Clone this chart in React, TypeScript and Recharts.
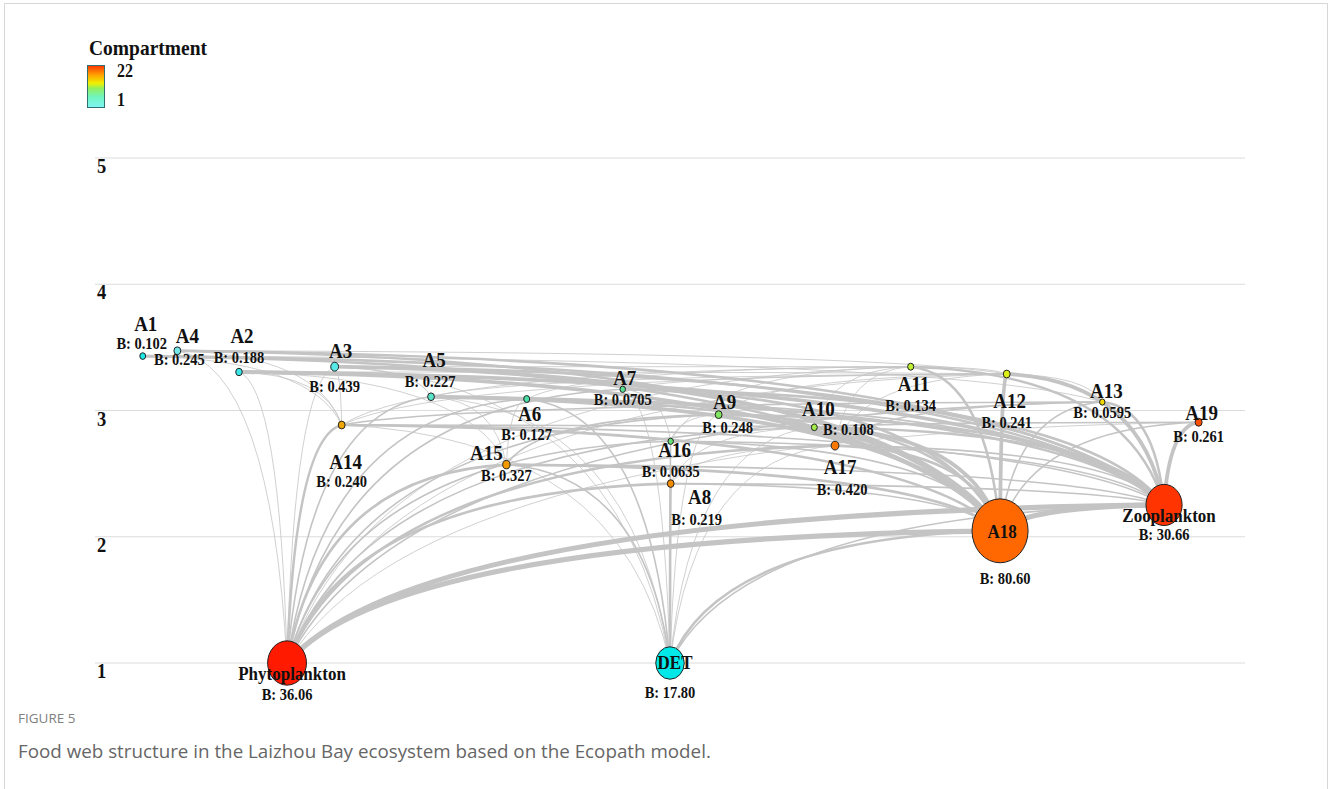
import React from 'react';
import { ScatterChart, Scatter, XAxis, YAxis, CartesianGrid } from 'recharts';

// compartments of the food web
const nodeNames = ['A1', 'A4', 'A2', 'A3', 'A14', 'A5', 'A6', 'A15', 'A7', 'A16', 'A8', 'A9', 'A10', 'A17', 'A11', 'A12', 'A13', 'A19', 'A18', 'Zooplankton', 'Phytoplankton', 'DET'];
// horizontal slot of each compartment in the layout (0-100)
const layoutX = [4.15, 7.16, 12.52, 20.84, 21.45, 29.22, 37.54, 35.77, 45.89, 50.06, 50.06, 54.23, 62.55, 64.35, 70.93, 79.28, 87.59, 95.97, 78.7, 92.96, 16.7, 50.0];
const trophicLevel = [3.431, 3.473, 3.305, 3.347, 2.885, 3.109, 3.091, 2.571, 3.168, 2.756, 2.421, 2.967, 2.867, 2.722, 3.347, 3.289, 3.067, 2.907, 2.047, 2.252, 1.0, 1.0];
const biomass = [0.102, 0.245, 0.188, 0.439, 0.24, 0.227, 0.127, 0.327, 0.0705, 0.0635, 0.219, 0.248, 0.108, 0.42, 0.134, 0.241, 0.0595, 0.261, 80.6, 30.66, 36.06, 17.8];
const compartment = [2, 5, 3, 4, 15, 6, 7, 16, 8, 9, 17, 10, 11, 18, 12, 13, 14, 20, 19, 21, 22, 1];
const levelTicks = [1, 2, 3, 4, 5];

// [prey, predator, flow class 1-5]
const foodLinks: [string, string, number][] = [
  ['Phytoplankton', 'Zooplankton', 5], ['Phytoplankton', 'A18', 5], ['Phytoplankton', 'A14', 3],
  ['Phytoplankton', 'A15', 3], ['Phytoplankton', 'A16', 2], ['Phytoplankton', 'A8', 3],
  ['Phytoplankton', 'A17', 3], ['Phytoplankton', 'A9', 2], ['Phytoplankton', 'A10', 2],
  ['Phytoplankton', 'A13', 2], ['Phytoplankton', 'A5', 2], ['Phytoplankton', 'A6', 2],
  ['Phytoplankton', 'A7', 2], ['Phytoplankton', 'A11', 1], ['Phytoplankton', 'A12', 1],
  ['Phytoplankton', 'A3', 1], ['Phytoplankton', 'A2', 1], ['Phytoplankton', 'A4', 1],
  ['Phytoplankton', 'A19', 1],
  ['DET', 'A18', 3], ['DET', 'A8', 3], ['DET', 'A16', 2], ['DET', 'A15', 2], ['DET', 'A6', 2],
  ['DET', 'A5', 1], ['DET', 'A7', 1], ['DET', 'A9', 1], ['DET', 'A17', 1], ['DET', 'A10', 1],
  ['DET', 'A14', 1], ['DET', 'A3', 1], ['DET', 'Zooplankton', 2],
  ['Zooplankton', 'A1', 3], ['Zooplankton', 'A4', 3], ['Zooplankton', 'A2', 4], ['Zooplankton', 'A3', 3],
  ['Zooplankton', 'A5', 3], ['Zooplankton', 'A6', 2], ['Zooplankton', 'A7', 3], ['Zooplankton', 'A9', 3],
  ['Zooplankton', 'A10', 3], ['Zooplankton', 'A11', 3], ['Zooplankton', 'A12', 4], ['Zooplankton', 'A13', 3],
  ['Zooplankton', 'A19', 4], ['Zooplankton', 'A14', 2], ['Zooplankton', 'A15', 2], ['Zooplankton', 'A16', 2],
  ['Zooplankton', 'A17', 2], ['Zooplankton', 'A8', 2], ['Zooplankton', 'A18', 5],
  ['A18', 'A1', 3], ['A18', 'A4', 3], ['A18', 'A2', 4], ['A18', 'A3', 4], ['A18', 'A5', 4],
  ['A18', 'A6', 3], ['A18', 'A7', 3], ['A18', 'A9', 3], ['A18', 'A10', 4], ['A18', 'A11', 3],
  ['A18', 'A12', 4], ['A18', 'A13', 2], ['A18', 'A14', 3], ['A18', 'A15', 3], ['A18', 'A17', 3],
  ['A18', 'A8', 2], ['A18', 'A16', 2], ['A18', 'A19', 2],
  ['A14', 'A1', 1], ['A14', 'A4', 1], ['A14', 'A2', 1], ['A14', 'A3', 1], ['A14', 'A10', 2],
  ['A14', 'A13', 2], ['A14', 'A11', 1], ['A14', 'A12', 1],
  ['A15', 'A5', 1], ['A15', 'A6', 1], ['A15', 'A2', 1], ['A15', 'A9', 2],
  ['A16', 'A7', 1], ['A16', 'A9', 1], ['A16', 'A11', 1],
  ['A8', 'A17', 1], ['A8', 'A10', 1],
  ['A17', 'A10', 1], ['A17', 'A11', 1], ['A17', 'A12', 1], ['A17', 'A13', 2],
  ['A10', 'A11', 1], ['A10', 'A19', 2],
  ['A9', 'A12', 1], ['A7', 'A12', 1], ['A6', 'A11', 1], ['A5', 'A12', 1], ['A5', 'A3', 1],
  ['A3', 'A11', 1], ['A2', 'A12', 1], ['A1', 'A13', 1], ['A4', 'A12', 1],
  ['A12', 'A11', 1], ['A13', 'A12', 1],
];

// label offsets from the node centre: [name dx, name dy, biomass dx, biomass dy]
const labelPlacement: Record<string, number[]> = {
  A1: [3, -25, -1, -7], A4: [10, -8, 2, 14], A2: [3, -29, 0, -9], A3: [6, -9, 0, 25],
  A14: [4, 44, 0, 62], A5: [3, -30, -1, -10], A6: [3, 22, 0, 41], A15: [-20, -5, 0, 16],
  A7: [2, -4, 0, 16], A16: [4, 16, 0, 36], A8: [29, 20, 26, 41], A9: [6, -6, 9, 18],
  A10: [4, -11, 34, 8], A17: [5, 28, 7, 49], A11: [3, 24, 0, 44], A12: [3, 34, 0, 54],
  A13: [4, -4, 0, 16], A19: [3, -2, 0, 20], A18: [2, 7, 5, 53], Zooplankton: [5, 17, 0, 35],
  Phytoplankton: [5, 17, 0, 37], DET: [5, 6, 0, 35],
};

const colorStops: [number, string][] = [
  [0, '#00e8e8'], [0.19, '#74e8e8'], [0.27, '#45e0b0'], [0.4, '#70e070'], [0.5, '#b0f040'],
  [0.6, '#f0f000'], [0.66, '#f0a800'], [0.75, '#f29000'], [0.86, '#ff6600'], [1, '#ff1a00'],
];

const SERIF = '"Liberation Serif", "Times New Roman", serif';
const linkWidth = [0, 0.8, 1.6, 2.6, 3.8, 5.2];

const hexToRgb = (h: string) => [1, 3, 5].map(i => parseInt(h.slice(i, i + 2), 16));

function compartmentColor(c: number) {
  const t = (c - 1) / 21;
  for (let i = 1; i < colorStops.length; i++) {
    const [t1, c1] = colorStops[i];
    const [t0, c0] = colorStops[i - 1];
    if (t <= t1) {
      const k = (t - t0) / (t1 - t0);
      const a = hexToRgb(c0), b = hexToRgb(c1);
      return `rgb(${a.map((v, j) => Math.round(v + (b[j] - v) * k)).join(',')})`;
    }
  }
  return colorStops[colorStops.length - 1][1];
}

const nodes = nodeNames.map((name, i) => ({
  name, x: layoutX[i], y: trophicLevel[i], b: biomass[i], c: compartment[i],
}));
const nodeIndex = (name: string) => nodeNames.indexOf(name);
const linkPoints = foodLinks.flatMap(([a, b]) => [nodes[nodeIndex(a)], nodes[nodeIndex(b)]]);

const formatB = (b: number) => (b < 1 ? b.toPrecision(3) : b.toFixed(2));
const nodeRadius = (b: number) => 2 + 2.9 * Math.sqrt(b);

// serif labels are a little taller than wide in this figure
const Tall = ({ x, y, size, children, anchor = 'middle' }: any) => (
  <text transform={`translate(${x},${y}) scale(1,1.12)`} fontSize={size} textAnchor={anchor}
    fontFamily={SERIF} fontWeight="bold" fill="#111">{children}</text>
);

// each consecutive pair of points is one link, drawn as an arc bending up from the lower end
function LinkPaths({ points }: { points: { x: number; y: number }[] }) {
  const paths = [];
  for (let i = 0; i + 1 < points.length; i += 2) {
    const a = points[i], b = points[i + 1];
    const [lo, hi] = a.y >= b.y ? [a, b] : [b, a];
    const qx = lo.x + 0.15 * (hi.x - lo.x);
    const qy = hi.y + 0.05 * (lo.y - hi.y);
    paths.push(
      <path key={i} d={`M${lo.x},${lo.y} Q${qx},${qy} ${hi.x},${hi.y}`} fill="none"
        stroke="#c4c4c4" strokeWidth={linkWidth[foodLinks[i / 2][2]]} strokeLinecap="round" />
    );
  }
  return <g>{paths}</g>;
}

const NodeShape = (props: any) => {
  const { cx, cy, payload } = props;
  const r = nodeRadius(payload.b);
  return <ellipse cx={cx} cy={cy} rx={r} ry={r * 1.14} fill={compartmentColor(payload.c)} stroke="#222" strokeWidth={1} />;
};

const NodeLabel = (props: any) => {
  const { cx, cy, payload } = props;
  const [nx, ny, bx, by] = labelPlacement[payload.name];
  const big = payload.b > 1;
  return (
    <g>
      <Tall x={cx + nx} y={cy + ny} size={big ? 17 : 19}>{payload.name}</Tall>
      <Tall x={cx + bx} y={cy + by} size={14.5}>B: {formatB(payload.b)}</Tall>
    </g>
  );
};

const LevelTick = ({ y, payload }: any) => (
  <Tall x={97} y={y + 15} size={18.5} anchor="start">{payload.value}</Tall>
);

export default function App() {
  return (
    <div style={{ position: 'absolute', left: 0, top: 0, width: 1328, height: 789, background: '#fff', overflow: 'hidden' }}>
      <svg width={1328} height={789} style={{ position: 'absolute', left: 0, top: 0 }}>
        <defs>
          <linearGradient id="compGrad" x1="0" y1="1" x2="0" y2="0">
            <stop offset="0%" stopColor="#7ff5f5" />
            <stop offset="25%" stopColor="#70f5c0" />
            <stop offset="45%" stopColor="#90f060" />
            <stop offset="58%" stopColor="#f0f000" />
            <stop offset="78%" stopColor="#ffa000" />
            <stop offset="100%" stopColor="#ff3300" />
          </linearGradient>
        </defs>
        <path d="M4.5,789 V3.5 H1327.5 V789" fill="none" stroke="#d6d6d6" strokeWidth={1} />
        <Tall x={89} y={55} size={19.5} anchor="start">Compartment</Tall>
        <rect x={87.5} y={65.5} width={17} height={42} fill="url(#compGrad)" stroke="#2f6f6f" strokeWidth={1} />
        <Tall x={117} y={77} size={16} anchor="start">22</Tall>
        <Tall x={117} y={106} size={16} anchor="start">1</Tall>
        <text x={18} y={723} fontFamily='"Open Sans", sans-serif' fontSize={13.5} fill="#808080">FIGURE 5</text>
        <text x={18} y={758} fontFamily='"Open Sans", sans-serif' fontSize={18.8} fill="#666">
          Food web structure in the Laizhou Bay ecosystem based on the Ecopath model.
        </text>
      </svg>
      <div style={{ position: 'absolute', left: 0, top: 0 }}>
        <ScatterChart width={1328} height={789} margin={{ top: 158, right: 83, bottom: 126, left: 95 }}>
          <CartesianGrid horizontal vertical={false} stroke="#dcdcdc" />
          <XAxis type="number" dataKey="x" domain={[0, 100]} hide height={0} />
          <YAxis type="number" dataKey="y" domain={[1, 5]} ticks={levelTicks} width={1} mirror
            axisLine={false} tickLine={false} tickSize={0} tickMargin={2} tick={<LevelTick />} />
          <Scatter data={linkPoints} isAnimationActive={false} shape={() => <g />}
            line={(p: any) => <LinkPaths points={p.points} />} />
          <Scatter data={nodes} isAnimationActive={false} shape={NodeShape} />
          <Scatter data={nodes} isAnimationActive={false} shape={NodeLabel} />
        </ScatterChart>
      </div>
    </div>
  );
}
